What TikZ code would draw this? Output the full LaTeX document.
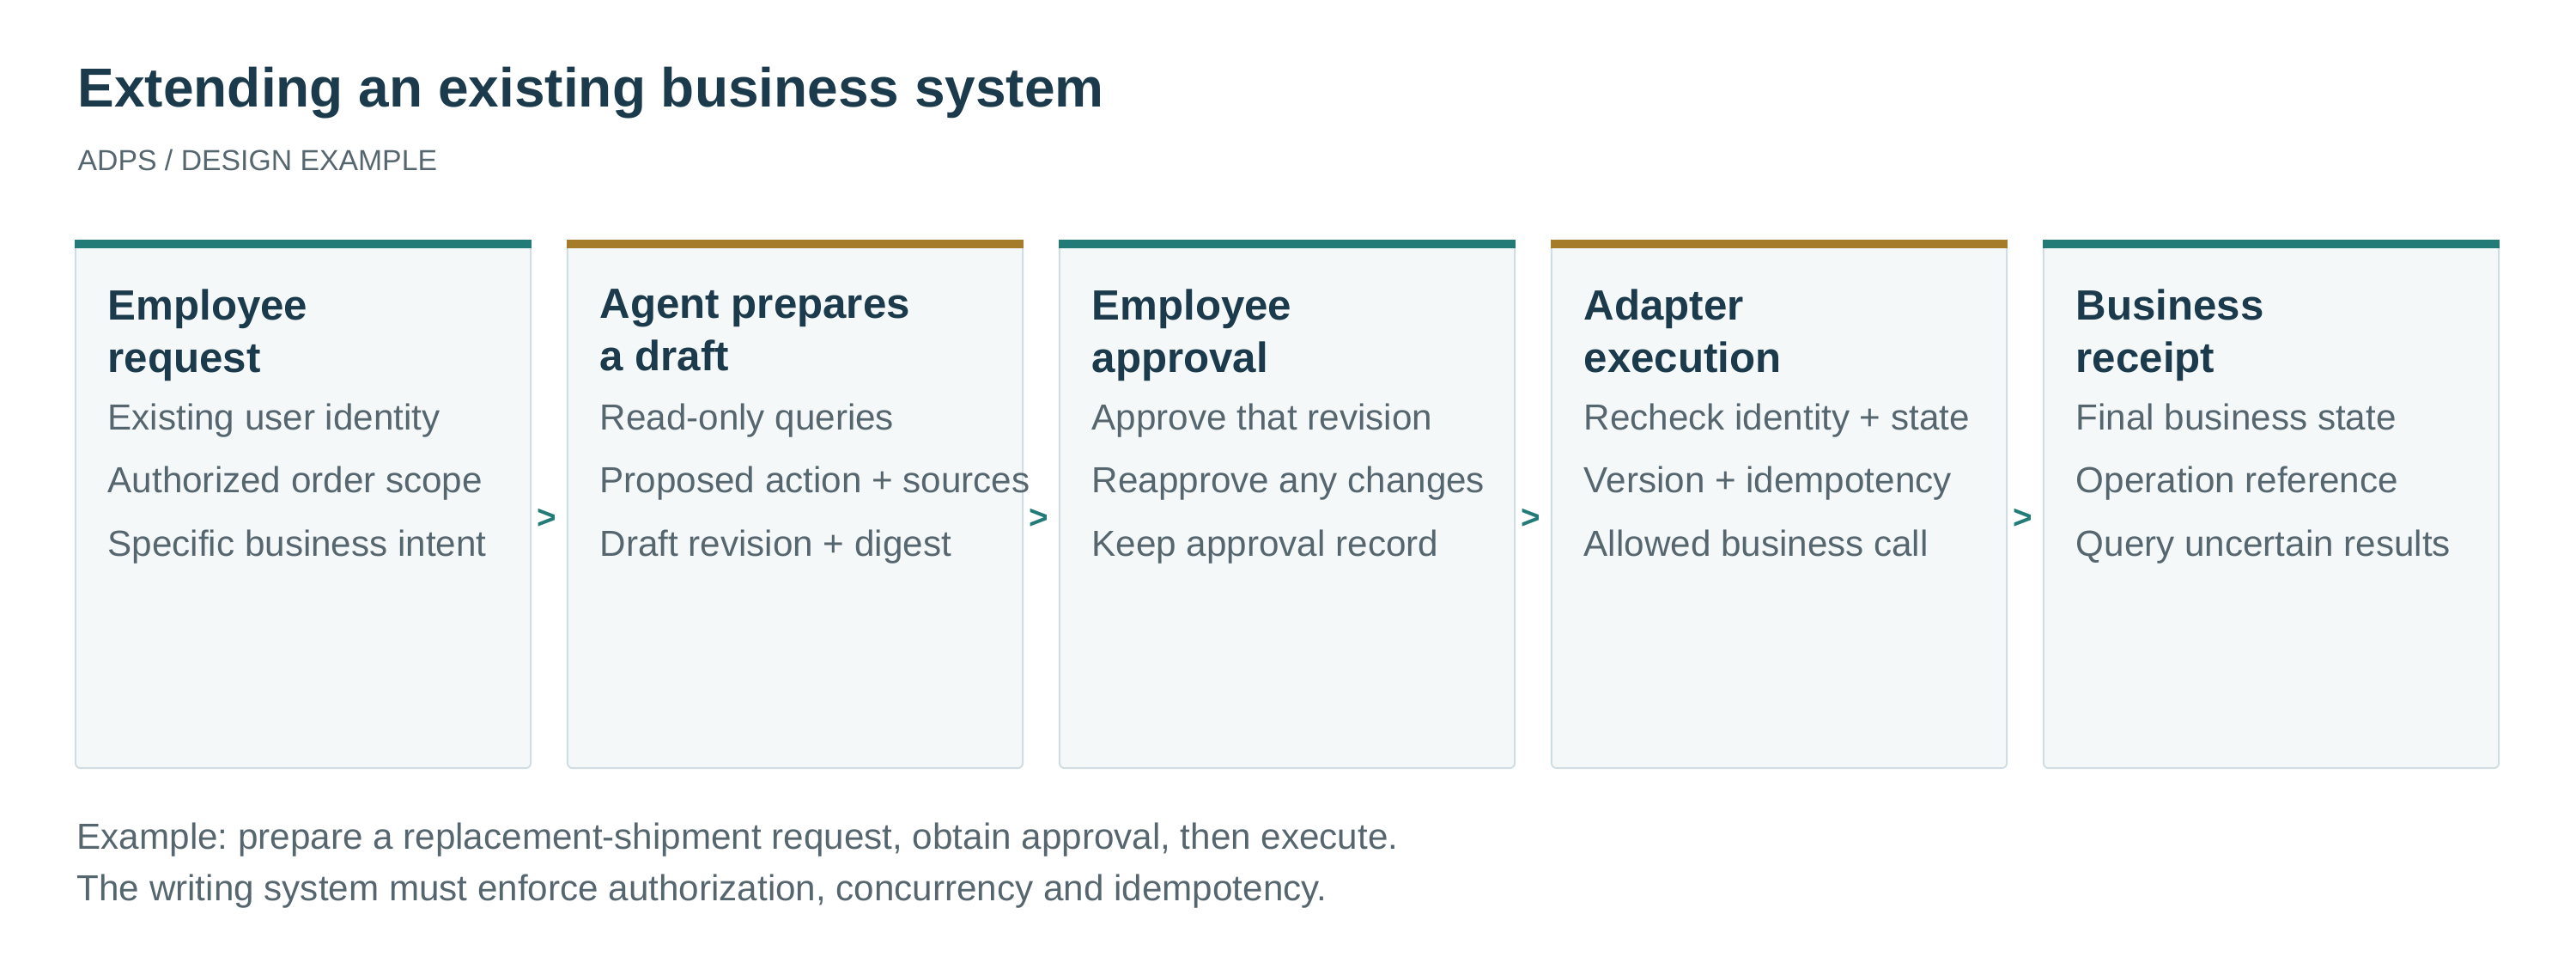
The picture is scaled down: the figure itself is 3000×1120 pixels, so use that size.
\documentclass[tikz,border=0pt]{standalone}
\usepackage{fontspec}
\setmainfont{Liberation Sans}
\usetikzlibrary{calc}
\definecolor{inkdark}{HTML}{1B3A4B}
\definecolor{inkgrey}{HTML}{56666F}
\definecolor{barteal}{HTML}{237B78}
\definecolor{bargold}{HTML}{A57C2A}
\definecolor{cardfill}{HTML}{F4F8F9}
\definecolor{cardline}{HTML}{D0DEE3}
\frenchspacing

\begin{document}
\begin{tikzpicture}[x=0.01cm, y=-0.01cm,
    card/.style={draw=cardline, fill=cardfill, line width=0.55pt, rounded corners=1.7pt,
        minimum width=5.3cm, minimum height=6.14cm, inner sep=0pt},
    head/.style={anchor=north west, inner sep=0pt, align=left, text=inkdark,
        font=\fontsize{14}{17.4}\selectfont\bfseries},
    items/.style={anchor=north west, inner sep=0pt, align=left, text=inkgrey,
        font=\fontsize{12}{20.9}\selectfont},
    chev/.style={text=barteal, font=\fontsize{11}{13}\selectfont\bfseries, inner sep=0pt}]
    \useasboundingbox (0,0) rectangle (3000,1120);

    \node[anchor=base west, inner sep=0pt, text=inkdark, font=\fontsize{18.2}{22}\selectfont\bfseries]
        at (90,124) (title) {Extending an existing business system};
    \node[anchor=base west, inner sep=0pt, text=inkgrey, font=\fontsize{9.6}{12}\selectfont]
        at (90,198) (sub) {ADPS / DESIGN EXAMPLE};

    % the five cards
    \node[card] at (353,587) (req) {};
    \node[card] at (926,587) (draft) {};
    \node[card] at (1499,587) (appr) {};
    \node[card] at (2072,587) (exec) {};
    \node[card] at (2645,587) (rcpt) {};

    \fill[barteal] (req.north west) rectangle ([yshift=-0.1cm]req.north east);
    \fill[bargold] (draft.north west) rectangle ([yshift=-0.1cm]draft.north east);
    \fill[barteal] (appr.north west) rectangle ([yshift=-0.1cm]appr.north east);
    \fill[bargold] (exec.north west) rectangle ([yshift=-0.1cm]exec.north east);
    \fill[barteal] (rcpt.north west) rectangle ([yshift=-0.1cm]rcpt.north east);

    \node[head] at (125,336) (reqh) {Employee\\request};
    \node[items] at (125,469) (reqi) {Existing user identity\\Authorized order scope\\Specific business intent};

    \node[head] at (698,336) (drafth) {Agent prepares\\a draft};
    \node[items] at (698,469) (drafti) {Read-only queries\\Proposed action + sources\\Draft revision + digest};

    \node[head] at (1271,336) (apprh) {Employee\\approval};
    \node[items] at (1271,469) (appri) {Approve that revision\\Reapprove any changes\\Keep approval record};

    \node[head] at (1844,336) (exech) {Adapter\\execution};
    \node[items] at (1844,469) (execi) {Recheck identity + state\\Version + idempotency\\Allowed business call};

    \node[head] at (2417,336) (rcpth) {Business\\receipt};
    \node[items] at (2417,469) (rcpti) {Final business state\\Operation reference\\Query uncertain results};

    % chevrons between cards
    \node[chev] at ($(req.east)!.5!(draft.west)+(-3,17)$) (c1) {>};
    \node[chev] at ($(draft.east)!.5!(appr.west)+(-3,17)$) (c2) {>};
    \node[chev] at ($(appr.east)!.5!(exec.west)+(-3,17)$) (c3) {>};
    \node[chev] at ($(exec.east)!.5!(rcpt.west)+(-3,17)$) (c4) {>};

    \node[anchor=north west, inner sep=0pt, align=left, text=inkgrey, font=\fontsize{12}{17.1}\selectfont]
        at (89,957) (note) {Example: prepare a replacement-shipment request, obtain approval, then execute.\\The writing system must enforce authorization, concurrency and idempotency.};
\end{tikzpicture}
\end{document}
